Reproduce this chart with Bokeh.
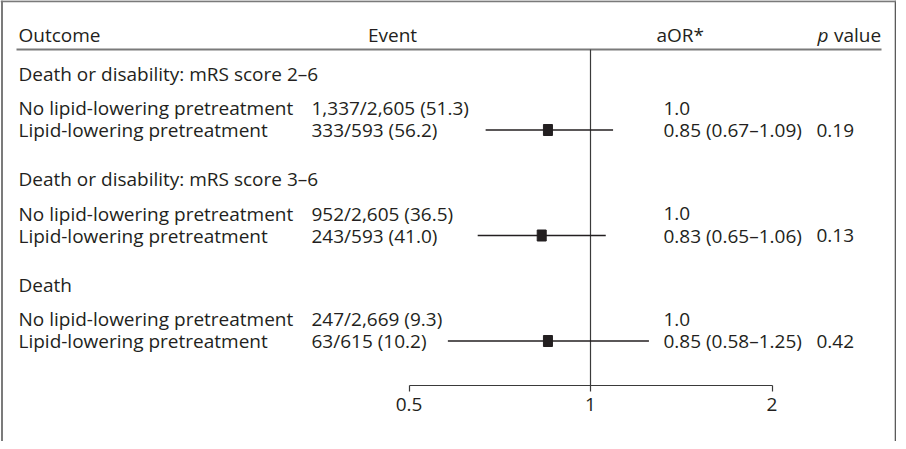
import math
from bokeh.plotting import figure
from bokeh.models import (Range1d, LogScale, LogAxis, FixedTicker, Span,
                          ColumnDataSource, CustomJSTickFormatter)
from bokeh.core.properties import value
from bokeh.embed import file_html
from bokeh.resources import INLINE

# ---------------- data ----------------
outcomes = ["Death or disability: mRS score 2\u20136",
            "Death or disability: mRS score 3\u20136",
            "Death"]
group_no = "No lipid-lowering pretreatment"
group_yes = "Lipid-lowering pretreatment"
events_no = ["1,337/2,605 (51.3)", "952/2,605 (36.5)", "247/2,669 (9.3)"]
events_yes = ["333/593 (56.2)", "243/593 (41.0)", "63/615 (10.2)"]
ref_label = "1.0"
aor = [0.85, 0.83, 0.85]
ci_lo = [0.67, 0.65, 0.58]
ci_hi = [1.09, 1.06, 1.25]
aor_text = ["0.85 (0.67\u20131.09)", "0.83 (0.65\u20131.06)", "0.85 (0.58\u20131.25)"]
p_values = ["0.19", "0.13", "0.42"]
ticks = [0.5, 1, 2]
tick_labels = ["0.5", "1", "2"]
headers = ["Outcome", "Event", "aOR*"]

# ---------------- layout (page pixels) ----------------
W, H = 896, 441
X0, Y0 = 8, 8
FONT = value("Open Sans")
FS = "19px"
TXT = "#231f20"
GREY = "#7a7a7a"

col_outcome = 26
col_event = 319
col_event_head = 400
col_aor_head = 664
col_aor = 671
col_p = 824
y_head = 42
y_head_line = 57
y_axis = 393
px_half, px_one, px_two = 416.5, 598.0, 779.5

title_y = [81 + 105.5 * i for i in range(3)]
no_y = [t + 34.5 for t in title_y]
yes_y = [t + 56.5 for t in title_y]

# log extra range so that 0.5, 1, 2 land at the pixel anchors
k = (px_two - px_half) / math.log10(4)
lo_v = 10 ** (math.log10(0.5) - (px_half - X0) / k)
hi_v = 10 ** (math.log10(2) + (X0 + W - px_two) / k)

p = figure(width=W, height=H, x_range=Range1d(X0, X0 + W), y_range=Range1d(Y0 + H, Y0),
           output_backend="svg", toolbar_location=None, min_border=0)
p.xaxis.visible = False
p.yaxis.visible = False
p.xgrid.visible = False
p.ygrid.visible = False
p.outline_line_color = None
p.background_fill_color = "white"
p.border_fill_color = "white"
p.extra_x_ranges = {"or": Range1d(lo_v, hi_v)}
p.extra_x_scales = {"or": LogScale()}

# frame borders
p.add_layout(Span(location=9.5, dimension="height", line_color="#5a5a5a", line_width=1.6))
p.add_layout(Span(location=903, dimension="height", line_color="#5a5a5a", line_width=1.6))
p.add_layout(Span(location=8.8, dimension="width", line_color=GREY, line_width=2))

# header underline
p.segment(x0=[24], x1=[889], y0=[y_head_line], y1=[y_head_line], line_color=GREY, line_width=2.2)

def txt(xs, ys, texts, align="left", style="normal"):
    src = ColumnDataSource(dict(x=xs, y=ys, t=texts))
    p.text(x="x", y="y", text="t", source=src, text_font=FONT, text_font_size=FS,
           text_color=TXT, text_align=align, text_baseline="middle",
           text_font_style=style)

# headers
txt([col_outcome], [y_head], [headers[0]])
txt([col_event_head], [y_head], [headers[1]], align="center")
txt([col_aor_head], [y_head], [headers[2]])
txt([825], [y_head], ["p"], style="italic")
txt([841.5], [y_head], ["value"])

# rows
txt([col_outcome] * 3, title_y, outcomes)
txt([col_outcome] * 3, no_y, [group_no] * 3)
txt([col_outcome] * 3, yes_y, [group_yes] * 3)
txt([col_event] * 3, no_y, events_no)
txt([col_event] * 3, yes_y, events_yes)
txt([col_aor] * 3, no_y, [ref_label] * 3)
txt([col_aor] * 3, yes_y, aor_text)
txt([col_p] * 3, yes_y, p_values)

# reference line at OR = 1
p.segment(x0=[1], x1=[1], y0=[y_head_line], y1=[y_axis], x_range_name="or",
          line_color="#3a3a3a", line_width=1.2)

# CIs and point estimates
ci = ColumnDataSource(dict(lo=ci_lo, hi=ci_hi, est=aor, y=yes_y))
p.segment(x0="lo", x1="hi", y0="y", y1="y", source=ci, x_range_name="or",
          line_color=TXT, line_width=1.5)
p.rect(x="est", y="y", width=9, height=11, width_units="screen", height_units="screen",
       source=ci, x_range_name="or", fill_color=TXT, line_color=TXT)

# odds-ratio axis
ax = LogAxis(x_range_name="or", fixed_location=y_axis, bounds=(0.5, 2),
             ticker=FixedTicker(ticks=ticks, minor_ticks=[]),
             formatter=CustomJSTickFormatter(
                 args=dict(tvals=ticks, tlabels=tick_labels),
                 code="const i = tvals.findIndex(t => Math.abs(t - tick) < 1e-9); return i >= 0 ? tlabels[i] : '';"))
ax.axis_line_color = "#3a3a3a"
ax.axis_line_width = 1.2
ax.major_tick_line_color = "#3a3a3a"
ax.major_tick_line_width = 1.2
ax.major_tick_in = 0
ax.major_tick_out = 6
ax.minor_tick_out = 0
ax.minor_tick_in = 0
ax.major_label_text_font = "Open Sans"
ax.major_label_text_font_size = FS
ax.major_label_text_color = TXT
ax.major_label_standoff = 6
p.add_layout(ax, "below")

open("out.html", "w").write(file_html(p, INLINE))
